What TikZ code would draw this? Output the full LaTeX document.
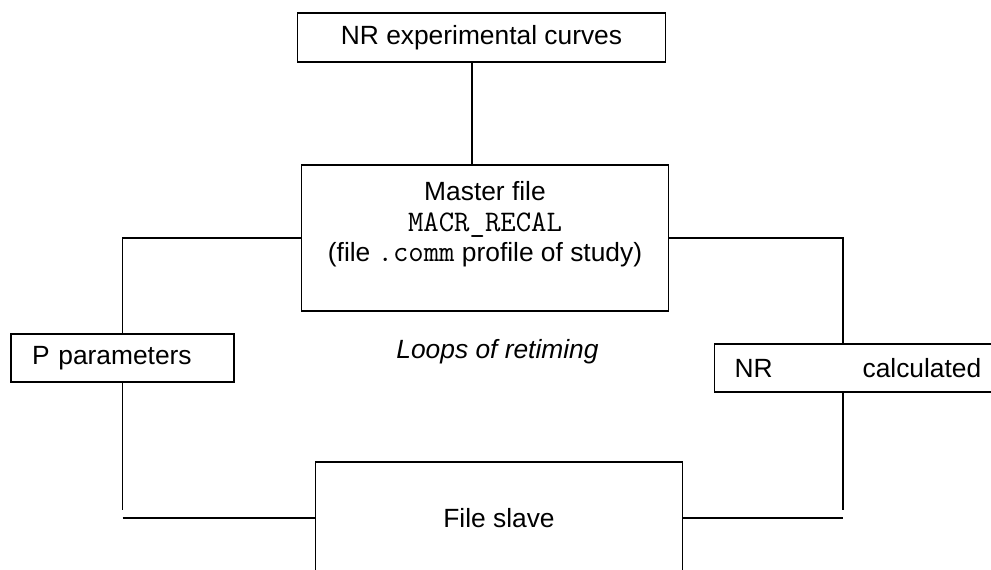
\documentclass[tikz,border=0pt]{standalone}
\usepackage{fontspec}
\setmainfont{Liberation Sans}
\usetikzlibrary{positioning}

\newcommand{\codeword}[1]{{\ttfamily\fontsize{17}{17.5}\selectfont #1}}

\begin{document}
\begin{tikzpicture}[x=0.02cm,y=-0.02cm,line width=0.9pt,
    file node/.style={rectangle,draw,line width=0.6pt,inner sep=0pt,font=\fontsize{15}{17.5}\selectfont}]
        \useasboundingbox (0,0) rectangle (991,569);

        \node[file node,minimum width=7.38cm,minimum height=0.98cm] (curves) at (481.5,37.5) {NR experimental curves};
        \node[file node,minimum width=7.36cm,minimum height=2.92cm,align=center,text depth=0.66cm] (master) at (485,238)
            {Master file\\ \codeword{MACR\_RECAL}\\ (file \codeword{.comm} profile of study)};
        \node[file node,minimum width=4.46cm,minimum height=0.96cm,text width=3.62cm,align=left] (params) at (122.5,358) {P parameters};
        \node[file node,anchor=west,minimum height=0.96cm,inner xsep=0.4cm,text width=6cm,align=left] (calc) at (714,368)
            {NR\hspace{1.8cm}calculated};
        \node[file node,minimum width=7.36cm,minimum height=2.24cm] (slave) at (499,518) {File slave};
        \node[font=\fontsize{15}{17.5}\selectfont\itshape] (loops) at (497.5,352) {Loops of retiming};

        \coordinate (rc) at (843,238);

        \draw ([xshift=-0.19cm]curves.south) -- ([xshift=-0.19cm]curves.south |- master.north);
        \draw (master.west) -| (params.north);
        \draw (master.east) -- (rc) -- (rc |- calc.north);
        \draw (params.south) -- ([yshift=0.16cm]params.south |- slave.west);
        \draw (params.south |- slave.west) -- (slave.west);
        \draw (rc |- calc.south) -- ([yshift=0.16cm]rc |- slave.east);
        \draw (slave.east) -- (rc |- slave.east);
    \end{tikzpicture}
\end{document}
